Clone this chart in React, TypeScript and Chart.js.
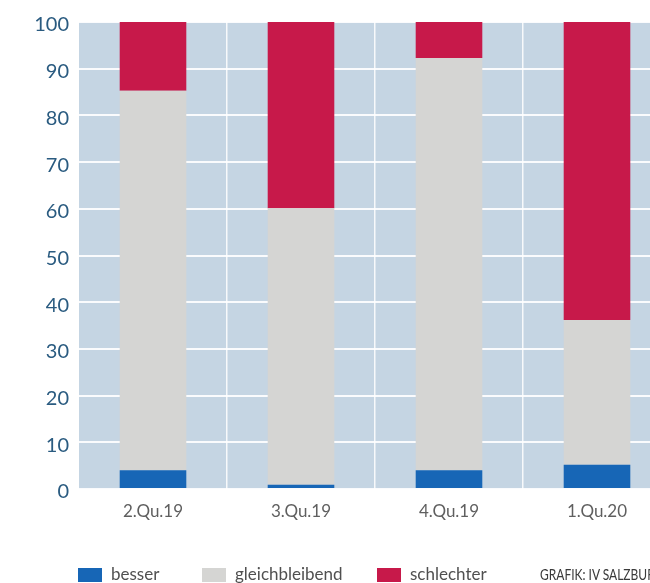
import React, { useEffect, useRef } from 'react';
import { Chart, registerables } from 'chart.js';

Chart.register(...registerables);

const categories = ['2.Qu.19', '3.Qu.19', '4.Qu.19', '1.Qu.20'];
const besser = [4, 0.9, 4, 5.2];
const gleichbleibend = [81.3, 59.2, 88.3, 31];
const schlechter = [14.7, 39.9, 7.7, 63.8];
const seriesNames = ['besser', 'gleichbleibend', 'schlechter'];
const yTickValues = [0, 10, 20, 30, 40, 50, 60, 70, 80, 90, 100];
const sourceNote = 'GRAFIK: IV SALZBURG';

const COLORS = ['#1766b6', '#d5d5d3', '#c7194a'];
const legendLefts = [78, 202, 377];

const plotBg = {
  id: 'plotBg',
  beforeDraw(chart: any) {
    const { ctx, chartArea } = chart;
    if (!chartArea) return;
    ctx.save();
    ctx.fillStyle = '#c5d5e3';
    ctx.fillRect(chartArea.left, chartArea.top, chartArea.right - chartArea.left, chartArea.bottom - chartArea.top);
    ctx.restore();
  },
};

export default function App() {
  const ref = useRef<HTMLCanvasElement | null>(null);

  useEffect(() => {
    if (!ref.current) return;
    const seriesData = [besser, gleichbleibend, schlechter];
    const chart = new Chart(ref.current, {
      type: 'bar',
      data: {
        labels: categories,
        datasets: seriesNames.map((name, i) => ({
          label: name,
          data: seriesData[i],
          backgroundColor: COLORS[i],
          borderWidth: 0,
          barPercentage: 0.9,
          categoryPercentage: 0.5,
        })),
      },
      options: {
        responsive: false,
        animation: false,
        layout: { padding: { top: 22, left: 0, right: 0, bottom: 0 } },
        plugins: {
          legend: { display: false },
          tooltip: { enabled: false },
        },
        scales: {
          x: {
            stacked: true,
            offset: true,
            border: { display: false },
            grid: {
              offset: true,
              drawTicks: false,
              color: (ctx: any) => (ctx.index === 0 ? 'rgba(0,0,0,0)' : 'rgba(255,255,255,0.85)'),
              lineWidth: 1.5,
            },
            ticks: {
              padding: 12,
              color: '#5f5f5f',
              font: { family: 'Lato', size: 17 },
            },
            afterFit: (scale: any) => {
              scale.height = 94;
            },
          },
          y: {
            stacked: true,
            min: 0,
            max: 100,
            border: { display: false },
            grid: {
              drawTicks: false,
              color: 'rgba(255,255,255,0.9)',
              lineWidth: 2,
            },
            afterBuildTicks: (scale: any) => {
              scale.ticks = yTickValues.map((v) => ({ value: v }));
            },
            ticks: {
              padding: 10,
              labelOffset: 3,
              color: '#2a5b80',
              font: { family: 'Lato', size: 20 },
            },
            afterFit: (scale: any) => {
              scale.width = 79;
            },
          },
        },
      },
      plugins: [plotBg],
    });
    return () => chart.destroy();
  }, []);

  return (
    <div
      style={{
        position: 'fixed',
        left: 0,
        top: 0,
        width: 650,
        height: 583,
        overflow: 'hidden',
        background: '#ffffff',
      }}
    >
      <canvas ref={ref} width={671} height={583} style={{ display: 'block', width: 671, height: 583 }} />
      {seriesNames.map((name, i) => (
        <div key={name}>
          <div
            style={{
              position: 'absolute',
              left: legendLefts[i],
              top: 568,
              width: 24,
              height: 14,
              background: COLORS[i],
            }}
          />
          <div
            style={{
              position: 'absolute',
              left: legendLefts[i] + 33,
              top: 564,
              lineHeight: '20px',
              fontFamily: 'Lato',
              fontSize: 17,
              color: '#505050',
              whiteSpace: 'nowrap',
            }}
          >
            {name}
          </div>
        </div>
      ))}
      <div
        style={{
          position: 'absolute',
          left: 540,
          top: 565,
          lineHeight: '18px',
          fontFamily: 'Lato, sans-serif',
          fontSize: 15,
          color: '#3a3a3a',
          whiteSpace: 'nowrap',
          transform: 'scaleX(0.8)',
          transformOrigin: 'left top',
        }}
      >
        {sourceNote}
      </div>
    </div>
  );
}
